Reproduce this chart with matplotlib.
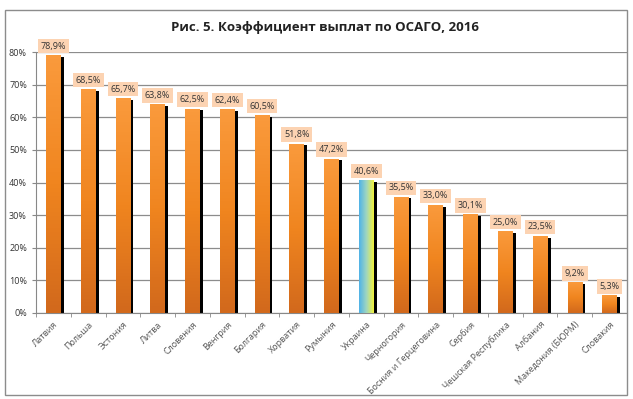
import numpy as np
import matplotlib.pyplot as plt
from matplotlib.colors import LinearSegmentedColormap
from matplotlib.patches import Rectangle
from matplotlib.ticker import FuncFormatter

countries = ['Латвия', 'Польша', 'Эстония', 'Литва', 'Словения', 'Венгрия', 'Болгария',
             'Хорватия', 'Румыния', 'Украина', 'Черногория', 'Босния и Герцеговина',
             'Сербия', 'Чешская Республика', 'Албания', 'Македония (БЮРМ)', 'Словакия']
values = [78.9, 68.5, 65.7, 63.8, 62.5, 62.4, 60.5, 51.8, 47.2, 40.6,
          35.5, 33.0, 30.1, 25.0, 23.5, 9.2, 5.3]
highlight = 'Украина'

plt.rcParams['font.family'] = ['Open Sans', 'DejaVu Sans']

fig = plt.figure(figsize=(6.33, 3.99), dpi=100)
# рамка вокруг диаграммы
fig.patches.append(Rectangle((5/633, 4/399), 622/633, 385/399, transform=fig.transFigure,
                             fill=False, edgecolor='#8c8c8c', linewidth=1.0))
ax = fig.add_axes([36/633, 86/399, 591/633, 261/399])

orange = LinearSegmentedColormap.from_list('or', ['#d2691c', '#f0851f', '#fa9a3c'])
ukr = LinearSegmentedColormap.from_list('ua', ['#4fb3e8', '#9fd6c0', '#f2f23c'])

x = np.arange(len(countries))
w = 0.42
for xi, v, name in zip(x, values, countries):
    # тень справа
    ax.bar(xi + 0.09, v - 0.4, width=w, bottom=0, color='black', zorder=2)
    if name == highlight:
        grad = np.linspace(0, 1, 64).reshape(1, -1)
        ax.imshow(grad, cmap=ukr, extent=(xi - w/2, xi + w/2, 0, v), aspect='auto', zorder=3)
    else:
        grad = np.linspace(1, 0, 64).reshape(-1, 1)
        ax.imshow(grad, cmap=orange, extent=(xi - w/2, xi + w/2, 0, v), aspect='auto', zorder=3)
    ax.text(xi, v + 1.5, f'{v:.1f}%'.replace('.', ','), ha='center', va='bottom',
            fontsize=6.5, color='#333333', zorder=5,
            bbox=dict(boxstyle='square,pad=0.3', facecolor='#fcd3b2', edgecolor='none'))

ax.set_xlim(-0.5, len(countries) - 0.5)
ax.set_ylim(0, 80)
ax.set_yticks(np.arange(0, 81, 10))
ax.yaxis.set_major_formatter(FuncFormatter(lambda v, p: f'{v:.0f}%'))
ax.set_xticks(x)
ax.set_xticklabels(countries, rotation=45, ha='right', rotation_mode='anchor',
                   fontsize=6.5, color='#555555')
ax.set_xticks(np.arange(-0.5, len(countries), 1), minor=True)
ax.tick_params(axis='x', which='major', length=0, pad=5)
ax.tick_params(axis='x', which='minor', length=3, color='#888888')
ax.tick_params(axis='y', labelsize=6.5, length=3, color='#888888', labelcolor='#333333')
ax.grid(axis='y', color='#8c8c8c', linewidth=0.9, zorder=0)
ax.set_axisbelow(True)
for s in ['top', 'right']:
    ax.spines[s].set_visible(False)
ax.spines['left'].set_color('#888888')
ax.spines['bottom'].set_color('#888888')

fig.text(325/633, 1 - 28/399, 'Рис. 5. Коэффициент выплат по ОСАГО, 2016', ha='center',
         va='center', fontsize=9.5, fontweight='bold', color='#222222')

plt.savefig('out.png', dpi=100)
